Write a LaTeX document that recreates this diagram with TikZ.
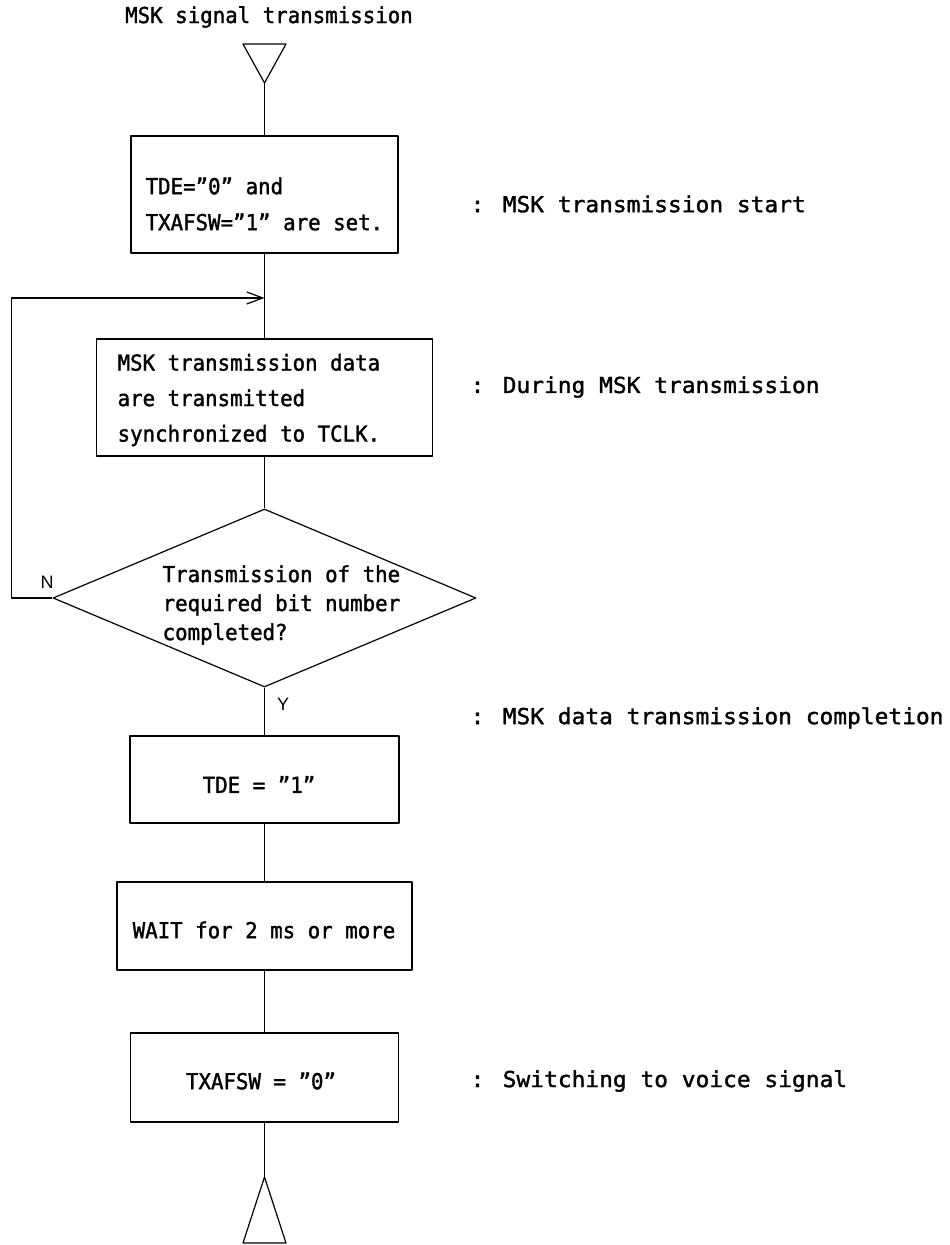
\documentclass[tikz,border=0pt]{standalone}
\usepackage{fontspec}
\usetikzlibrary{shapes.geometric,arrows.meta}
\newfontfamily\boxfont{DejaVu Sans Mono}[FakeStretch=0.944,FakeBold=1.5]
\newfontfamily\notefont{DejaVu Sans Mono}[FakeStretch=1.04,FakeBold=1.5]
\newfontfamily\ynfont{Liberation Sans}
\tikzset{
  stepbox/.style={draw,rectangle,inner sep=0pt},
  boxtext/.style={inner sep=0pt,align=left,font={\boxfont\fontsize{11}{#1}\selectfont}},
  boxtext/.default=18,
  note/.style={anchor=west,inner sep=0pt,font={\notefont\fontsize{11}{13}\selectfont}},
  yn/.style={inner sep=0pt,font={\ynfont\fontsize{9}{11}\selectfont}}
}
\begin{document}
\begin{tikzpicture}[x=0.5pt,y=-0.5pt,line width=0.6pt,line join=round,>={Straight Barb[length=8pt,width=6pt]}]
	\useasboundingbox (0,0) rectangle (949,1245);
	\node[boxtext] (title) at (269,17) {MSK signal transmission};
	\draw (243,44) -- (286,44) -- (264.5,83) -- cycle;
	\coordinate (top) at (264.5,83);
	\node[stepbox,minimum width=133.5pt,minimum height=58.5pt] (set) at (264.5,194.5) {};
	\node[boxtext,anchor=west] (set-t) at (145,204) {TDE=”0” and\\TXAFSW=”1” are set.};
	\coordinate (join) at (264.5,298);
	\node[stepbox,minimum width=168pt,minimum height=58.5pt] (send) at (264.5,397.5) {};
	\node[boxtext=17.75,anchor=west] (send-t) at (117,400) {MSK transmission data\\are transmitted\\synchronized to TCLK.};
	\node[draw,diamond,inner sep=0pt,minimum width=211.5pt,minimum height=89pt] (dec) at (264.5,598) {};
	\node[boxtext=14.5,anchor=west] (dec-t) at (162,605) {Transmission of the\\required bit number\\completed?};
	\node[stepbox,minimum width=134.5pt,minimum height=43.5pt] (tde) at (264.5,779.5) {};
	\node[boxtext] (tde-t) at (259,784.5) {TDE = ”1”};
	\node[stepbox,minimum width=147.5pt,minimum height=44pt] (wait) at (264.5,926) {};
	\node[boxtext] (wait-t) at (264,930) {WAIT for 2 ms or more};
	\node[stepbox,minimum width=134pt,minimum height=44.5pt] (sw) at (264.5,1077.5) {};
	\node[boxtext] (sw-t) at (261,1081) {TXAFSW = ”0”};
	\coordinate (bottom) at (264.5,1177);
	\draw (243,1243) -- (286,1243) -- (bottom) -- cycle;
	% connectors
	\draw (top) -- (set.north);
	\draw (set.south) -- (send.north);
	\draw (send.south) -- (dec.north);
	\draw (dec.south) -- (tde.north);
	\draw (tde.south) -- (wait.north);
	\draw (wait.south) -- (sw.north);
	\draw (sw.south) -- (bottom);
	\draw[->] (dec.west) -- ++(-41,0) |- (join);
	\node[yn] (nlab) at (47,582) {N};
	\node[yn] (ylab) at (283,704) {Y};
	% notes
	\node[note] (n1) at (470,204) {: MSK transmission start};
	\node[note] (n2) at (470,387) {: During MSK transmission};
	\node[note] (n3) at (470,718) {: MSK data transmission completion};
	\node[note] (n4) at (470,1081) {: Switching to voice signal};
\end{tikzpicture}
\end{document}
